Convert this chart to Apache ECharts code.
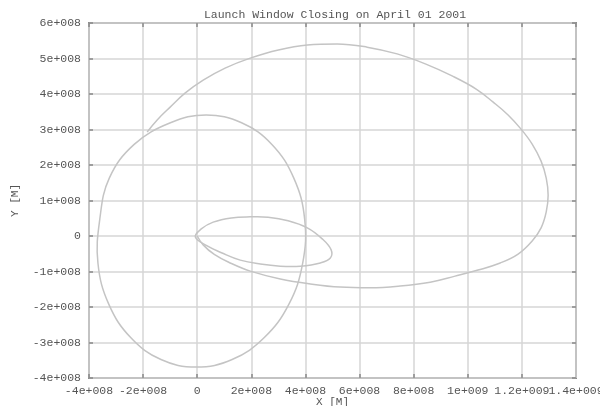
<!DOCTYPE html>
<html>
<head>
<meta charset="utf-8">
<script src="https://cdn.jsdelivr.net/npm/echarts@6/dist/echarts.min.js"></script>
<style>html,body{margin:0;padding:0;background:#fff}#c{width:600px;height:406px}</style>
</head>
<body>
<div id="c"></div>
<script>
// values in units of 1e8 m
var UNIT = 1e8;
var titleText = "Launch Window Closing on April 01 2001";
var xTickValues = [-4, -2, 0, 2, 4, 6, 8, 10, 12, 14];
var xTickLabels = ["-4e+008", "-2e+008", "0", "2e+008", "4e+008", "6e+008", "8e+008", "1e+009", "1.2e+009", "1.4e+009"];
var yTickValues = [-4, -3, -2, -1, 0, 1, 2, 3, 4, 5, 6];
var yTickLabels = ["-4e+008", "-3e+008", "-2e+008", "-1e+008", "0", "1e+008", "2e+008", "3e+008", "4e+008", "5e+008", "6e+008"];

// Moon orbit (closed loop)
var orbitX = [0.33, 1.64, 2.76, 3.57, 3.97, 3.90, 3.39, 2.48, 1.29, -0.04, -1.34, -2.46, -3.27, -3.67, -3.60, -3.25, -2.33, -0.99];
var orbitY = [3.41, 3.19, 2.58, 1.63, 0.48, -0.76, -1.92, -2.86, -3.48, -3.69, -3.48, -2.86, -1.92, -0.76, 0.48, 1.63, 2.58, 3.19];

// Parking ellipse (closed loop)
var parkX = [-0.07, 0.15, 0.59, 1.26, 1.96, 2.62, 3.36, 4.07, 4.62, 4.95, 4.92, 4.55, 3.81, 3.07, 2.33, 1.59, 0.92, 0.37];
var parkY = [-0.03, 0.20, 0.39, 0.51, 0.54, 0.53, 0.43, 0.23, -0.08, -0.39, -0.62, -0.76, -0.85, -0.85, -0.79, -0.68, -0.48, -0.28];

// Transfer trajectory
var transX = [0.00, 0.22, 0.63, 1.22, 1.96, 3.07, 4.18, 5.28, 6.39, 7.50, 8.61, 9.53, 10.38, 11.20, 11.86, 12.38, 12.71, 12.90, 12.97, 12.90, 12.71, 12.38, 11.97, 11.49, 10.94, 10.31, 9.42, 8.43, 7.39, 6.28, 5.17, 4.07, 3.00, 1.96, 1.03, 0.22, -0.44, -1.00, -1.48, -1.85];
var transY = [0.00, -0.25, -0.52, -0.76, -0.99, -1.21, -1.35, -1.44, -1.46, -1.41, -1.30, -1.13, -0.96, -0.76, -0.51, -0.14, 0.23, 0.68, 1.15, 1.63, 2.11, 2.59, 3.01, 3.41, 3.77, 4.14, 4.51, 4.85, 5.13, 5.32, 5.41, 5.38, 5.24, 5.01, 4.73, 4.39, 4.03, 3.63, 3.27, 2.93];

function pairs(xs, ys) {
  var out = [];
  for (var i = 0; i < xs.length; i++) out.push([xs[i] * UNIT, ys[i] * UNIT]);
  return out;
}
function labelFor(values, labels) {
  return function (v) {
    for (var i = 0; i < values.length; i++) {
      if (Math.abs(values[i] * UNIT - v) < 1) return labels[i];
    }
    return '';
  };
}

var FONT = '"Liberation Mono", "DejaVu Sans Mono", monospace';
var textColor = '#555';
var gridColor = '#d6d6d6';
var tickColor = '#888';
var lineColor = '#c4c4c4';

var chart = echarts.init(document.getElementById('c'), null, {renderer: 'canvas'});
function axisBase() {
  return {
    type: 'value',
    axisLine: {show: false, onZero: false},
    splitLine: {show: true, lineStyle: {color: gridColor, width: 1.5}},
    axisTick: {show: true, inside: true, length: 4, lineStyle: {color: tickColor, width: 1.5}}
  };
}
var xBottom = Object.assign(axisBase(), {
  min: -4 * UNIT, max: 14 * UNIT, interval: 2 * UNIT, position: 'bottom',
  name: 'X [M]', nameLocation: 'middle', nameGap: 19, nameMoveOverlap: false,
  nameTextStyle: {fontFamily: FONT, fontSize: 11, color: textColor},
  axisLabel: {formatter: labelFor(xTickValues, xTickLabels), fontFamily: FONT, fontSize: 11.5, color: textColor, margin: 7, showMaxLabel: false, showMinLabel: true}
});
var xTop = Object.assign(axisBase(), {
  min: -4 * UNIT, max: 14 * UNIT, interval: 2 * UNIT, position: 'top',
  axisLabel: {show: false}, splitLine: {show: false}
});
var yLeft = Object.assign(axisBase(), {
  min: -4 * UNIT, max: 6 * UNIT, interval: 1 * UNIT, position: 'left',
  name: 'Y [M]', nameLocation: 'middle', nameGap: 68, nameRotate: 90, nameMoveOverlap: false,
  nameTextStyle: {fontFamily: FONT, fontSize: 11, color: textColor},
  axisLabel: {formatter: labelFor(yTickValues, yTickLabels), fontFamily: FONT, fontSize: 11.5, color: textColor, margin: 8}
});
var yRight = Object.assign(axisBase(), {
  min: -4 * UNIT, max: 6 * UNIT, interval: 1 * UNIT, position: 'right',
  axisLabel: {show: false}, splitLine: {show: false}
});

function loopSeries(name, xs, ys) {
  return {
    name: name, type: 'custom', xAxisIndex: 0, yAxisIndex: 0,
    coordinateSystem: 'cartesian2d', silent: true, animation: false,
    data: pairs(xs, ys),
    renderItem: function (params, api) {
      if (params.dataIndex !== 0) return;
      var d = pairs(xs, ys);
      var pts = d.map(function (p) { return api.coord(p); });
      return {
        type: 'polygon',
        shape: {points: pts, smooth: 0.4},
        style: {fill: null, stroke: lineColor, lineWidth: 1.5}
      };
    }
  };
}

chart.setOption({
  animation: false,
  backgroundColor: '#fff',
  title: {
    text: titleText, left: 330, top: 4, textAlign: 'center',
    textStyle: {fontFamily: FONT, fontSize: 11.5, fontWeight: 'normal', color: textColor}
  },
  grid: {left: 89, right: 24, top: 23, bottom: 28, show: true, borderColor: '#8c8c8c', borderWidth: 2, backgroundColor: 'transparent', outerBoundsMode: 'none', containLabel: false},
  xAxis: [xBottom, xTop],
  yAxis: [yLeft, yRight],
  series: [
    loopSeries('Moon orbit', orbitX, orbitY),
    loopSeries('Parking orbit', parkX, parkY),
    {
      name: 'Transfer', type: 'line', xAxisIndex: 0, yAxisIndex: 0,
      data: pairs(transX, transY), smooth: 0.4, showSymbol: false, symbol: 'none',
      lineStyle: {color: lineColor, width: 1.5}, silent: true, animation: false
    }
  ]
});

// last x tick label (overlaps its neighbour, as in the original), placed through the axis scale
var lastIdx = xTickValues.length - 1;
var lastPx = chart.convertToPixel({xAxisIndex: 0}, xTickValues[lastIdx] * UNIT);
var bottomPx = chart.convertToPixel({yAxisIndex: 0}, yTickValues[0] * UNIT);
chart.setOption({
  graphic: [{
    type: 'text', x: lastPx, y: bottomPx + 7, silent: true,
    style: {text: xTickLabels[lastIdx], fontFamily: FONT, fontSize: 11.5, fill: textColor, align: 'center', verticalAlign: 'top'}
  }]
});
</script>
</body>
</html>
